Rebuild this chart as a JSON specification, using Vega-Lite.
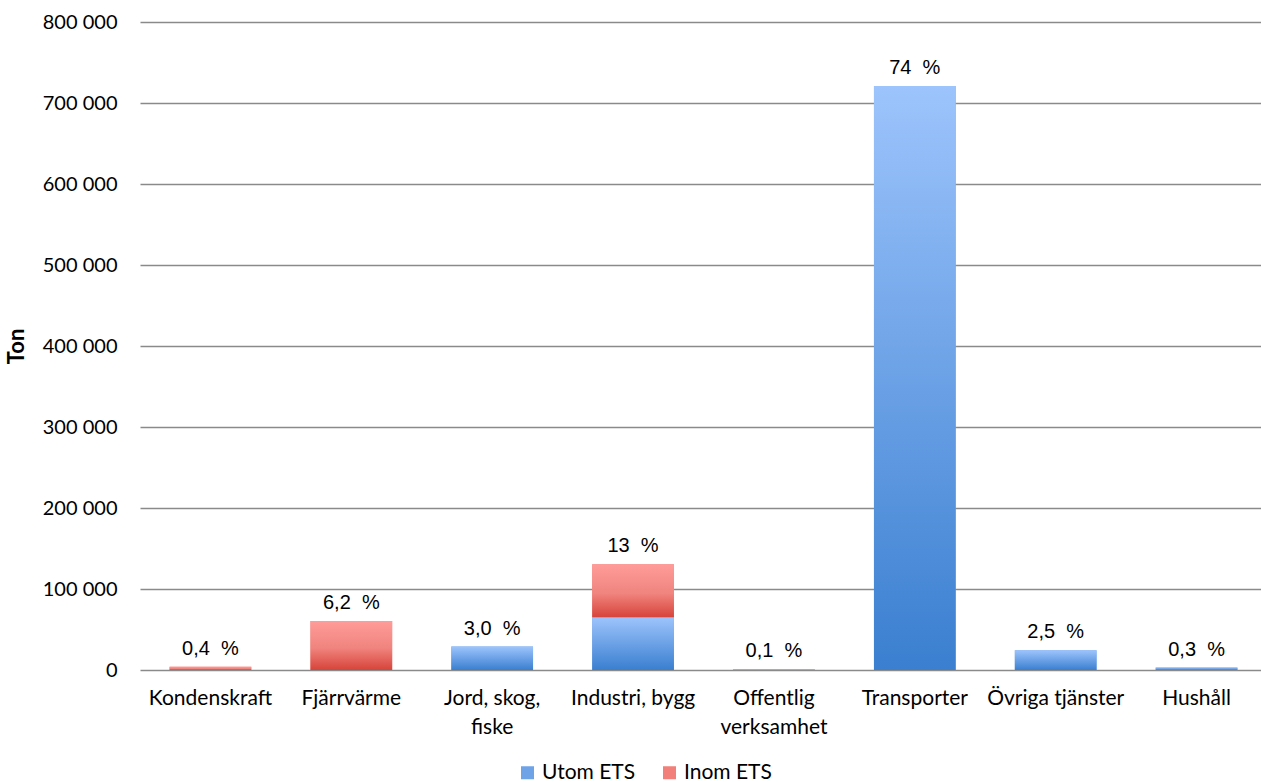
{
  "$schema": "https://vega.github.io/schema/vega-lite/v6.json",
  "width": 1127,
  "height": 648,
  "autosize": "none",
  "padding": {"left": 140, "top": 22, "right": 0, "bottom": 112},
  "background": "white",
  "config": {"view": {"stroke": null}, "font": "Lato"},
  "data": {
    "values": [
      {"cat": "Kondenskraft", "type": "Inom ETS", "ord": 2, "value": 4000},
      {"cat": "Fjärrvärme", "type": "Inom ETS", "ord": 2, "value": 60500},
      {"cat": "Jord, skog, fiske", "type": "Utom ETS", "ord": 1, "value": 29000},
      {"cat": "Industri, bygg", "type": "Utom ETS", "ord": 1, "value": 65000},
      {"cat": "Industri, bygg", "type": "Inom ETS", "ord": 2, "value": 65500},
      {"cat": "Offentlig verksamhet", "type": "Inom ETS", "ord": 2, "value": 1000},
      {"cat": "Transporter", "type": "Utom ETS", "ord": 1, "value": 721000},
      {"cat": "Övriga tjänster", "type": "Utom ETS", "ord": 1, "value": 24400},
      {"cat": "Hushåll", "type": "Utom ETS", "ord": 1, "value": 3000}
    ]
  },
  "transform": [
    {"stack": "value", "groupby": ["cat"], "sort": [{"field": "ord", "order": "ascending"}], "as": ["v0", "v1"]}
  ],
  "encoding": {
    "x": {
      "field": "cat",
      "type": "nominal",
      "sort": ["Kondenskraft", "Fjärrvärme", "Jord, skog, fiske", "Industri, bygg", "Offentlig verksamhet", "Transporter", "Övriga tjänster", "Hushåll"],
      "scale": {"paddingInner": 0.42, "paddingOuter": 0.21},
      "axis": {
        "title": null,
        "domain": false,
        "ticks": false,
        "labelAngle": 0,
        "labelFontSize": 21,
        "labelColor": "#000000",
        "labelPadding": 17,
        "labelLineHeight": 29,
        "labelBaseline": "top",
        "labelExpr": "datum.value == 'Jord, skog, fiske' ? ['Jord,  skog,', 'fiske'] : datum.value == 'Offentlig verksamhet' ? ['Offentlig', 'verksamhet'] : datum.value"
      }
    }
  },
  "layer": [
    {
      "mark": {"type": "bar"},
      "encoding": {
        "y": {
          "field": "v0",
          "type": "quantitative",
          "scale": {"domain": [0, 800000]},
          "axis": {
            "title": "Ton",
            "titleFontSize": 22,
            "titleFontWeight": "bold",
            "titleColor": "#000000",
            "titlePadding": 14,
            "values": [0, 100000, 200000, 300000, 400000, 500000, 600000, 700000, 800000],
            "labelExpr": "replace(format(datum.value, ','), ',', ' ')",
            "labelFontSize": 20,
            "labelColor": "#000000",
            "labelPadding": 23,
            "domain": false,
            "ticks": false,
            "grid": true,
            "gridColor": "#8a8a8a",
            "gridWidth": 1.3
          }
        },
        "y2": {"field": "v1"},
        "color": {
          "field": "type",
          "type": "nominal",
          "scale": {"domain": ["Utom ETS", "Inom ETS"], "range": ["#6fa3e8", "#f27f7a"]},
          "legend": {
            "title": null,
            "orient": "none",
            "direction": "horizontal",
            "legendX": 377,
            "legendY": 740,
            "padding": 0,
            "symbolType": "square",
            "symbolSize": 169,
            "symbolStrokeWidth": 0,
            "labelFontSize": 21,
            "labelColor": "#000000",
            "labelOffset": 4,
            "columnPadding": 23
          }
        }
      }
    },
    {
      "transform": [{"filter": "datum.type == 'Utom ETS'"}],
      "mark": {
        "type": "bar",
        "fill": {
          "gradient": "linear",
          "x1": 0, "y1": 1, "x2": 0, "y2": 0,
          "stops": [
            {"offset": 0, "color": "#3a7fd0"},
            {"offset": 1, "color": "#9dc4fc"}
          ]
        }
      },
      "encoding": {
        "y": {"field": "v0", "type": "quantitative"},
        "y2": {"field": "v1"}
      }
    },
    {
      "transform": [{"filter": "datum.type == 'Inom ETS'"}],
      "mark": {
        "type": "bar",
        "fill": {
          "gradient": "linear",
          "x1": 0, "y1": 1, "x2": 0, "y2": 0,
          "stops": [
            {"offset": 0, "color": "#d6443a"},
            {"offset": 0.45, "color": "#f0847e"},
            {"offset": 1, "color": "#ff9c99"}
          ]
        }
      },
      "encoding": {
        "y": {"field": "v0", "type": "quantitative"},
        "y2": {"field": "v1"}
      }
    },
    {
      "data": {
        "values": [
          {"cat": "Kondenskraft", "total": 4000, "label": "0,4\u00a0 %"},
          {"cat": "Fjärrvärme", "total": 60500, "label": "6,2\u00a0 %"},
          {"cat": "Jord, skog, fiske", "total": 29000, "label": "3,0\u00a0 %"},
          {"cat": "Industri, bygg", "total": 130500, "label": "13\u00a0 %"},
          {"cat": "Offentlig verksamhet", "total": 1000, "label": "0,1\u00a0 %"},
          {"cat": "Transporter", "total": 721000, "label": "74\u00a0 %"},
          {"cat": "Övriga tjänster", "total": 24400, "label": "2,5\u00a0 %"},
          {"cat": "Hushåll", "total": 3000, "label": "0,3\u00a0 %"}
        ]
      },
      "mark": {"type": "text", "font": "Liberation Sans", "fontSize": 20, "baseline": "alphabetic", "dy": -12, "color": "#000000"},
      "encoding": {
        "y": {"field": "total", "type": "quantitative"},
        "text": {"field": "label"}
      }
    }
  ]
}
